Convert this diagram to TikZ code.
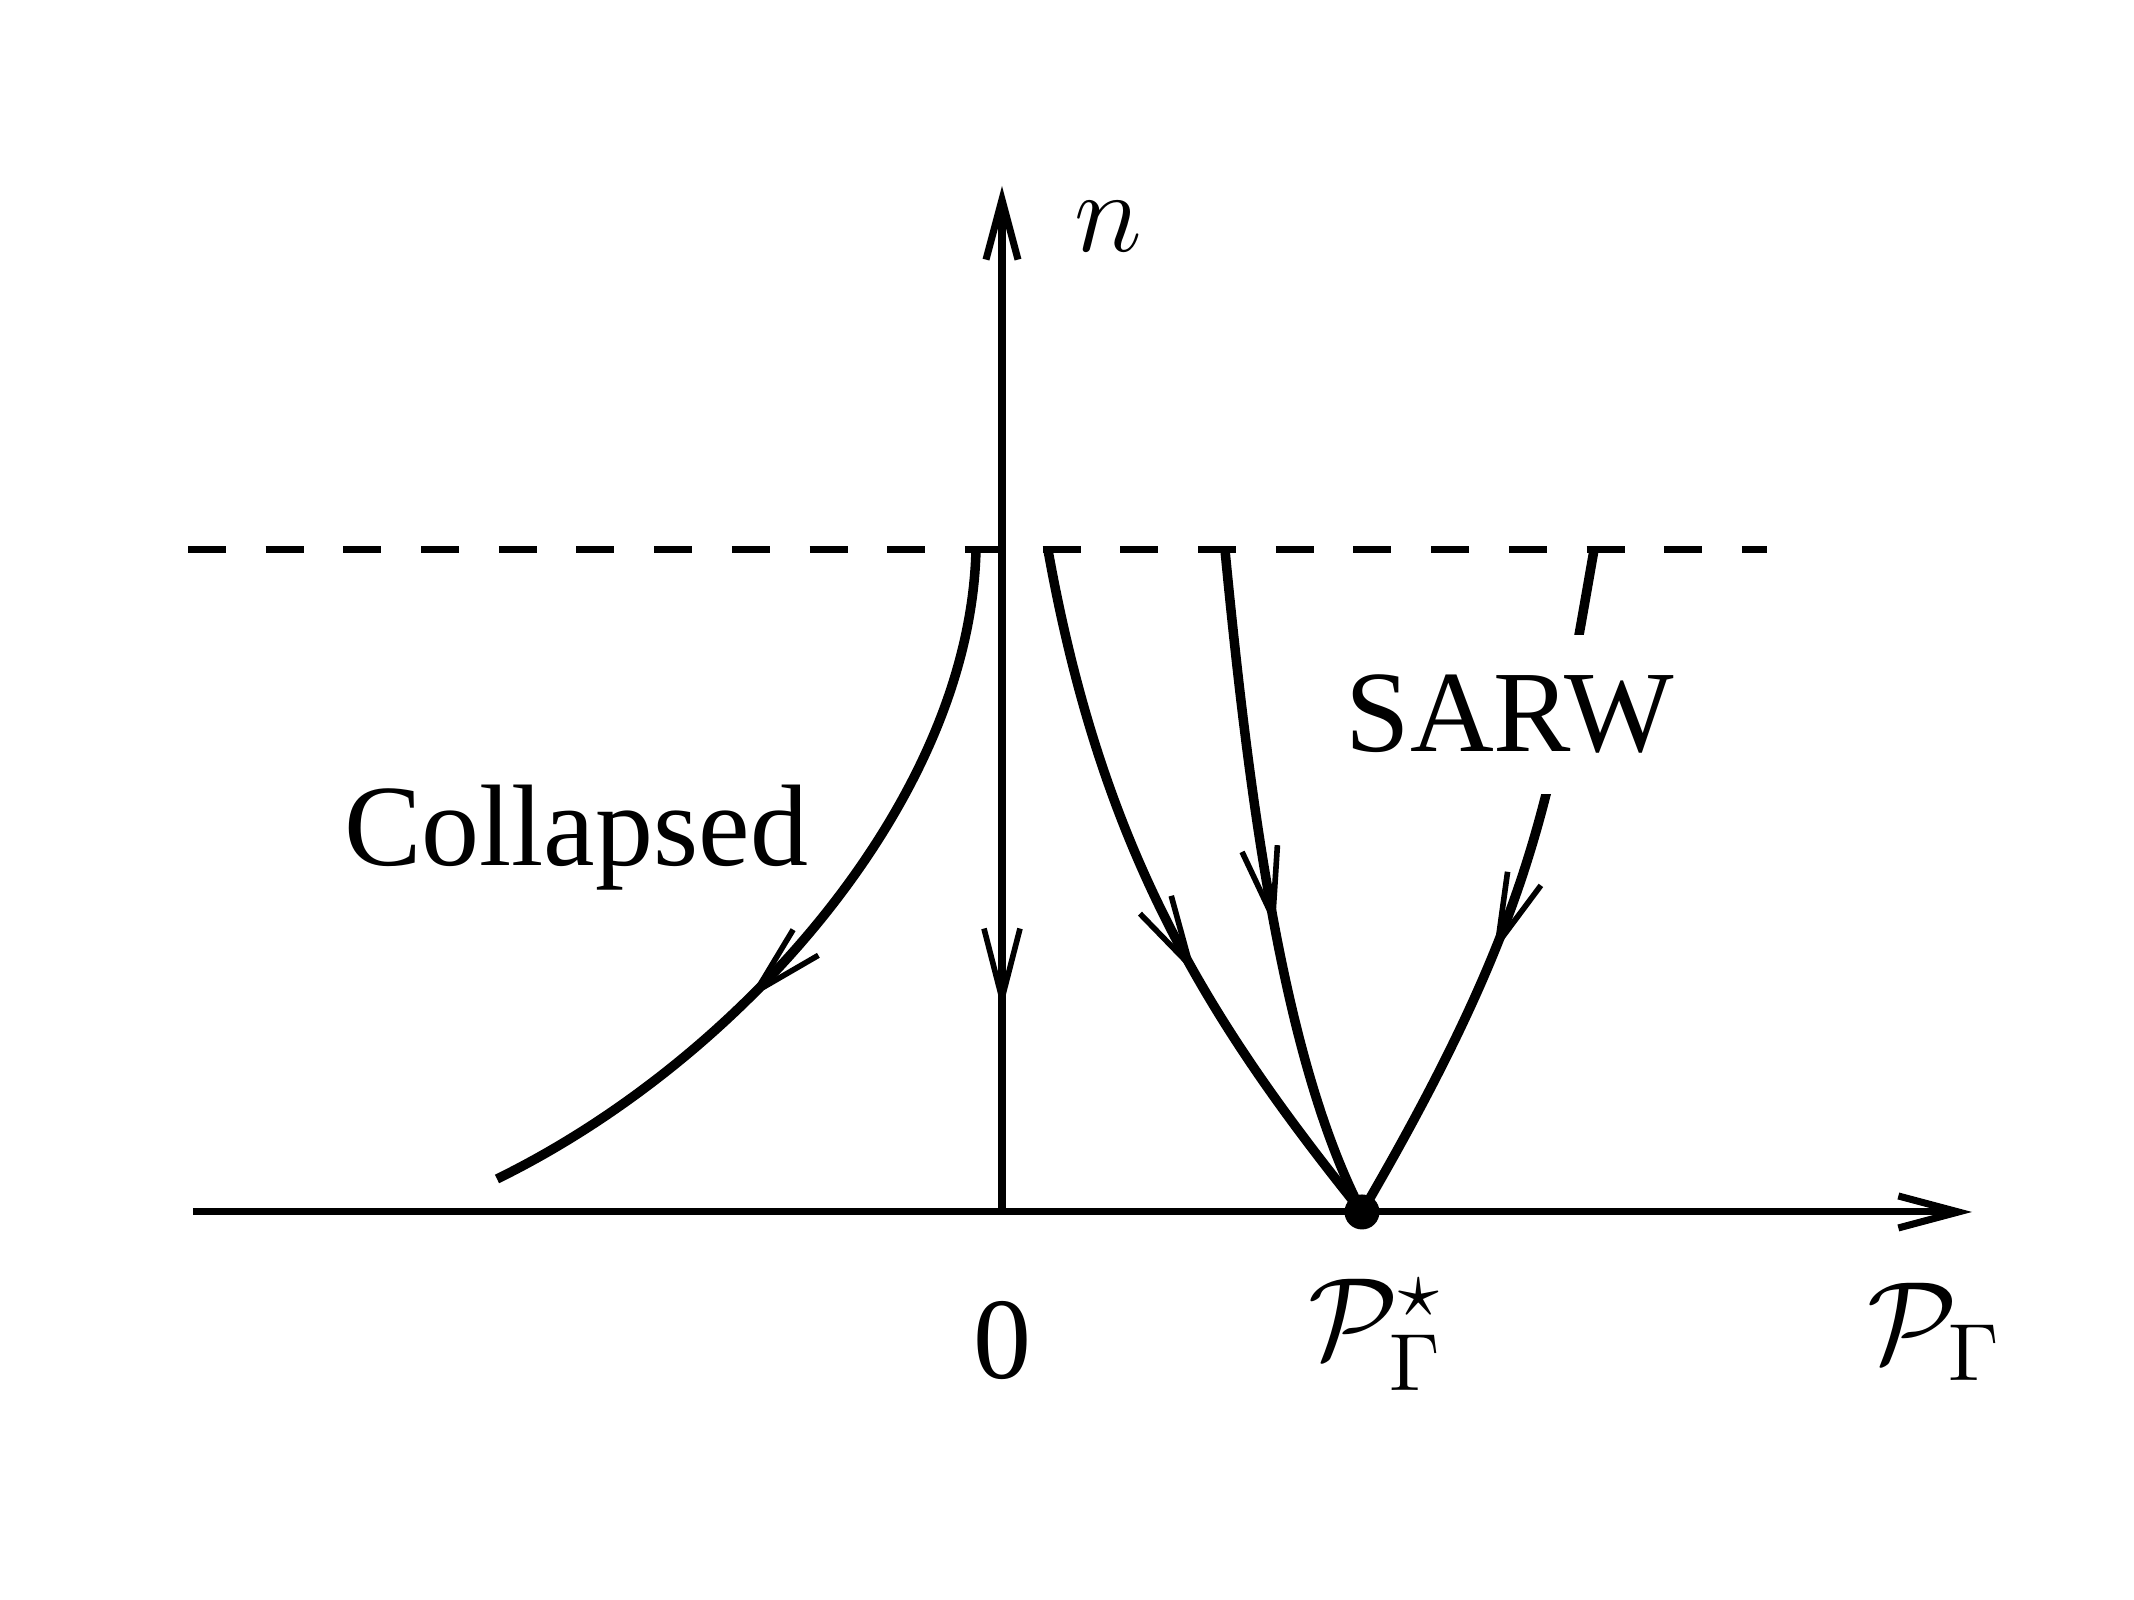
\RequirePackage{fix-cm}
\documentclass[tikz,border=0pt]{standalone}
\usepackage{amsmath,amssymb}
\usepackage[no-math]{fontspec}
\setmainfont{Liberation Serif}
\usepackage{tikz}
\usetikzlibrary{arrows.meta, decorations.markings}

\begin{document}
\begin{tikzpicture}[
    x=0.5cm, y=0.5cm,
    font=\fontsize{16.5}{20}\selectfont,
    axis/.style={line width=1pt},
    axistip/.style={-{Straight Barb[length=3mm, width=1.6mm]}},
    midarrow/.style={decoration={markings, mark=at position #1 with {\arrow{Straight Barb[length=3.5mm, width=1.8mm, line width=0.8pt]}}}, postaction={decorate}},
    backarrow/.style={decoration={markings, mark=at position #1 with {\arrowreversed{Straight Barb[length=3.5mm, width=1.8mm, line width=0.8pt]}}}, postaction={decorate}},
    flow/.style={line width=1.35pt, midarrow=#1},
    lbl/.style={inner sep=0pt},
    dot/.style={circle, fill=black, inner sep=0pt, minimum size=1.75mm}
]
    \useasboundingbox (0,0) rectangle (21.34,16);

    \coordinate (xstart) at (1.93,3.88);
    \coordinate (xend) at (19.72,3.88);
    \coordinate (orig) at (10.02,3.88);
    \coordinate (yend) at (10.02,14.14);
    \coordinate (dashl) at (1.88,10.50);
    \coordinate (dashr) at (17.67,10.50);
    \coordinate (topA) at (9.76,10.50);
    \coordinate (endA) at (4.97,4.21);
    \coordinate (topB) at (10.48,10.50);
    \coordinate (topC) at (12.25,10.50);
    \coordinate (topD) at (15.94,10.50);
    \node[dot] (fp) at (13.62,3.88) {};

    \draw[axis, dash pattern=on 1.9mm off 1.985mm] (dashl) -- (dashr);
    \draw[axis, axistip] (xstart) -- (xend);
    \draw[axis, axistip, backarrow=0.197] (orig) -- (yend);

    \draw[flow=0.625] (topA) .. controls (9.70,8.00) and (7.40,5.40) .. (endA);
    \draw[flow=0.61] (topB) .. controls (11.02,7.50) and (12.05,5.83) .. (fp.center);
    \draw[flow=0.562] (topC) .. controls (12.49,8.01) and (12.83,5.40) .. (fp.center);
    \draw[flow=0.59] (topD) .. controls (15.50,8.00) and (15.35,6.85) .. (fp.center);

    \node[lbl] (nlab) at (11.08,13.73) {$n$};
    \node[lbl] (zero) at (10.02,2.59) {0};
    \node[lbl] (pstar) at (13.76,2.65) {$\mathcal{P}_\Gamma^\star$};
    \node[lbl] (pgam) at (19.35,2.68) {$\mathcal{P}_\Gamma$};
    \node[lbl, anchor=base] (coll) at (5.76,7.34) {Collapsed};
    \node[fill=white, inner xsep=1mm, inner ysep=2mm, anchor=base] (sarw) at (15.10,8.48) {SARW};
\end{tikzpicture}
\end{document}
